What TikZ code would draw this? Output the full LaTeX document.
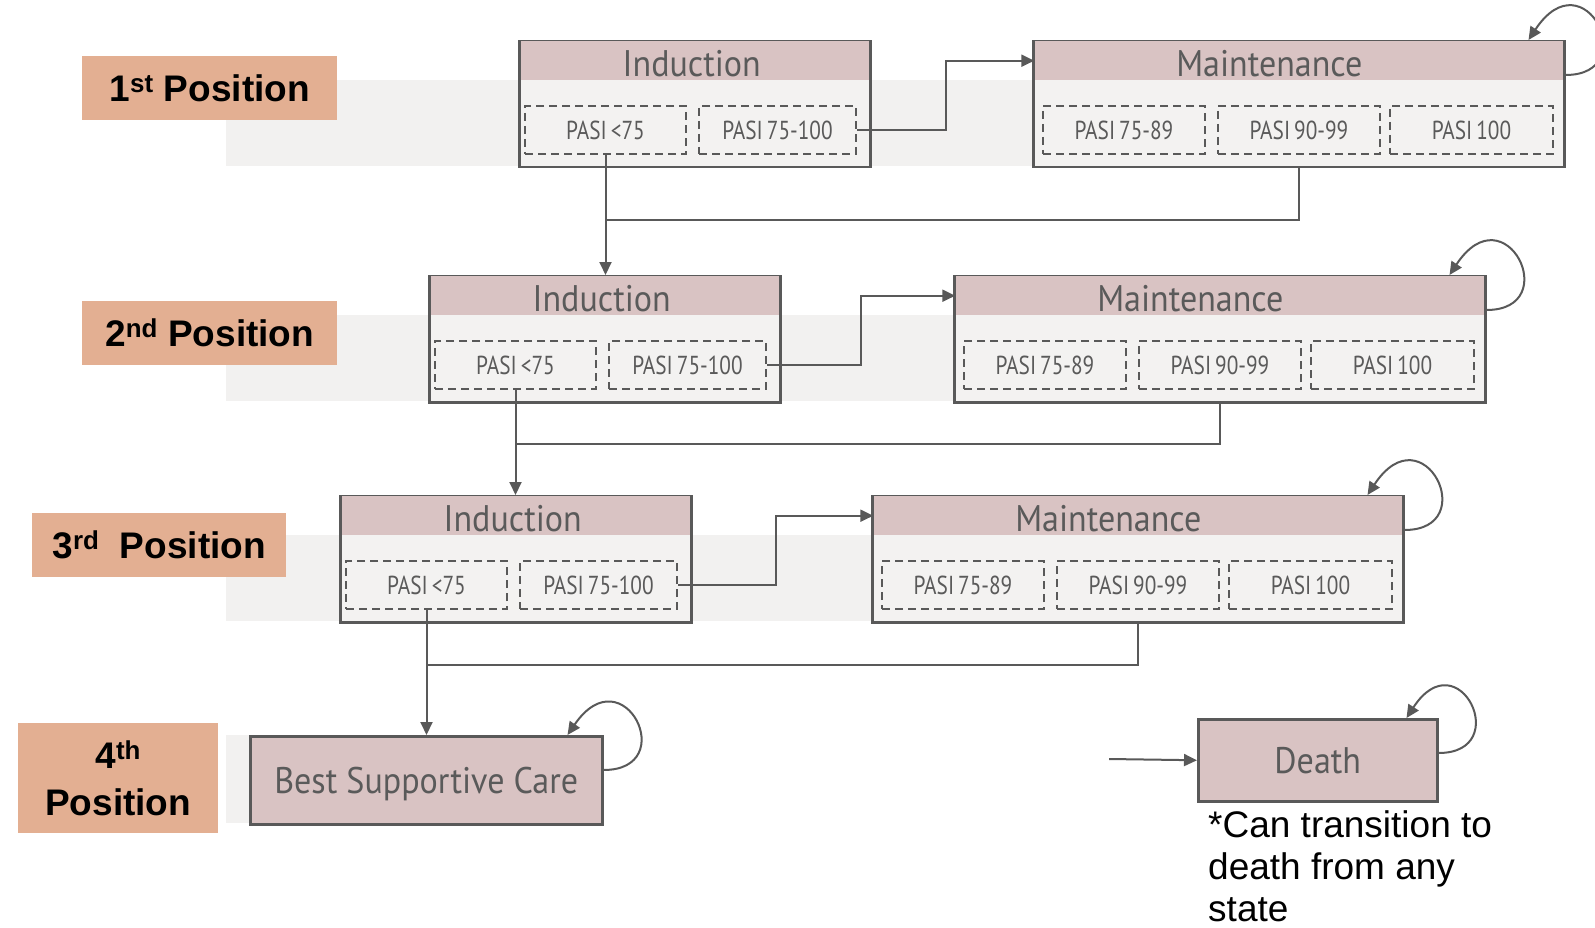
\documentclass[tikz,border=0pt]{standalone}
\usepackage{fontspec}
\setmainfont{Liberation Sans}
\newfontfamily\headfont{PT Sans}[FakeStretch=0.92]
\newfontfamily\pasifont{PT Sans}[FakeStretch=0.82, WordSpace=0.7]
\usepackage{tikz}
\usetikzlibrary{arrows.meta,calc}

\definecolor{headpink}{HTML}{D9C3C3}
\definecolor{bodygray}{HTML}{F3F2F1}
\definecolor{bandgray}{HTML}{F2F1F0}
\definecolor{labelsalmon}{HTML}{E3AF92}
\definecolor{linegray}{HTML}{595959}
\definecolor{textgray}{HTML}{5A5A5A}

\tikzset{
  stagebox/.style={draw=linegray, line width=2.5pt, fill=bodygray, anchor=north west,
    inner sep=0pt, minimum height=126pt},
  headbox/.style={fill=headpink, anchor=north, inner sep=0pt, text height=35.5pt, text depth=3pt,
    text=textgray, font=\headfont\fontsize{37}{40}\selectfont},
  textleft/.style={execute at begin node={\hspace*{-#1}}},
  pasibox/.style={draw=linegray, line width=2pt, dash pattern=on 8pt off 5pt, anchor=north west,
    inner sep=0pt, minimum height=48pt, text height=19pt, text depth=0pt,
    text=textgray, font=\pasifont\fontsize{26}{28}\selectfont},
  endbox/.style={draw=linegray, line width=2.5pt, fill=headpink, anchor=north west, inner sep=0pt,
    text height=26pt, text depth=0pt, text=textgray, font=\headfont\fontsize{37}{40}\selectfont},
  poslabel/.style={fill=labelsalmon, anchor=north west, inner sep=0pt, align=center,
    font=\bfseries\fontsize{37}{47}\selectfont},
  band/.style={fill=bandgray},
  link/.style={draw=linegray, line width=2pt},
  flow/.style={link, -{Triangle[length=13pt,width=12pt]}},
}

\begin{document}
\begin{tikzpicture}[x=1pt,y=-1pt]
\useasboundingbox (0,0) rectangle (1595,928);

% treatment positions 1--3
\foreach \r/\y/\xi/\xm in {1/40/518/1032, 2/275/428/953, 3/495/339/871}{
  \fill[band] (226,{\y+40}) rectangle (\xm,{\y+126});
  \node[stagebox, minimum width=351pt] (ind\r) at (\xi,\y) {};
  \node[headbox, minimum width=348.5pt, textleft=6pt] (indhead\r) at ([yshift=-1.25pt]ind\r.north) {Induction};
  \node[pasibox, minimum width=161pt] (indlow\r) at ([xshift=6pt,yshift=-65pt]ind\r.north west) {PASI <75};
  \node[pasibox, minimum width=157pt] (indhigh\r) at ([xshift=180pt,yshift=-65pt]ind\r.north west) {PASI 75-100};
  \node[stagebox, minimum width=531pt] (mnt\r) at (\xm,\y) {};
  \node[headbox, minimum width=528.5pt, textleft=59pt] (mnthead\r) at ([yshift=-1.25pt]mnt\r.north) {Maintenance};
  \node[pasibox, minimum width=162pt] (mnta\r) at ([xshift=10pt,yshift=-65pt]mnt\r.north west) {PASI 75-89};
  \node[pasibox, minimum width=162pt] (mntb\r) at ([xshift=185pt,yshift=-65pt]mnt\r.north west) {PASI 90-99};
  \node[pasibox, minimum width=163pt] (mntc\r) at ([xshift=357pt,yshift=-65pt]mnt\r.north west) {PASI 100};
}

% position 4 and death
\fill[band] (226,735) rectangle (249,823);
\node[endbox, minimum width=352pt, minimum height=88pt] (bsc) at (249,735) {Best Supportive Care};
\node[endbox, minimum width=239pt, minimum height=82pt] (death) at (1197,718) {Death};
\node[anchor=north west, align=left, inner sep=0pt, font=\fontsize{37}{42}\selectfont] (note)
  at ([xshift=11pt,yshift=-8pt]death.south west) {*Can transition to\\death from any\\state};

% position labels
\node[poslabel, minimum width=255pt, minimum height=64pt] (pos1) at (82,56) {1\textsuperscript{st} Position};
\node[poslabel, minimum width=255pt, minimum height=64pt] (pos2) at (82,301) {2\textsuperscript{nd} Position};
\node[poslabel, minimum width=254pt, minimum height=64pt] (pos3) at (32,513) {3\textsuperscript{rd}\ \ Position};
\node[poslabel, minimum width=200pt, minimum height=110pt] (pos4) at (18,723) {4\textsuperscript{th}\\Position};

% transitions
\foreach \r/\nxt/\gap in {1/ind2/65, 2/ind3/54, 3/bsc/55}{
  \draw[flow] (indlow\r.south) -- (indlow\r.south |- \nxt.north);
  \draw[link] (mnt\r.south) |- ([yshift=-\gap pt]indlow\r.south);
  \draw[flow] (indhigh\r.east) -| ($(indhigh\r.east)!0.5!(mnthead\r.west)$) |- (mnthead\r.west);
  \draw[flow] ([yshift=-35pt]mnt\r.north east) .. controls +(78,0) and +(56,-85) .. ([xshift=-37pt]mnt\r.north east);
}
\draw[flow] ([yshift=-35pt]bsc.north east) .. controls +(78,0) and +(56,-82) .. ([xshift=-36pt]bsc.north east);
\draw[flow] ([yshift=-35pt]death.north east) .. controls +(76,0) and +(52,-80) .. ([xshift=-32pt]death.north east);
\coordinate (deathin) at (1109,759);
\draw[flow] (deathin) -- (death.west);
\end{tikzpicture}
\end{document}
